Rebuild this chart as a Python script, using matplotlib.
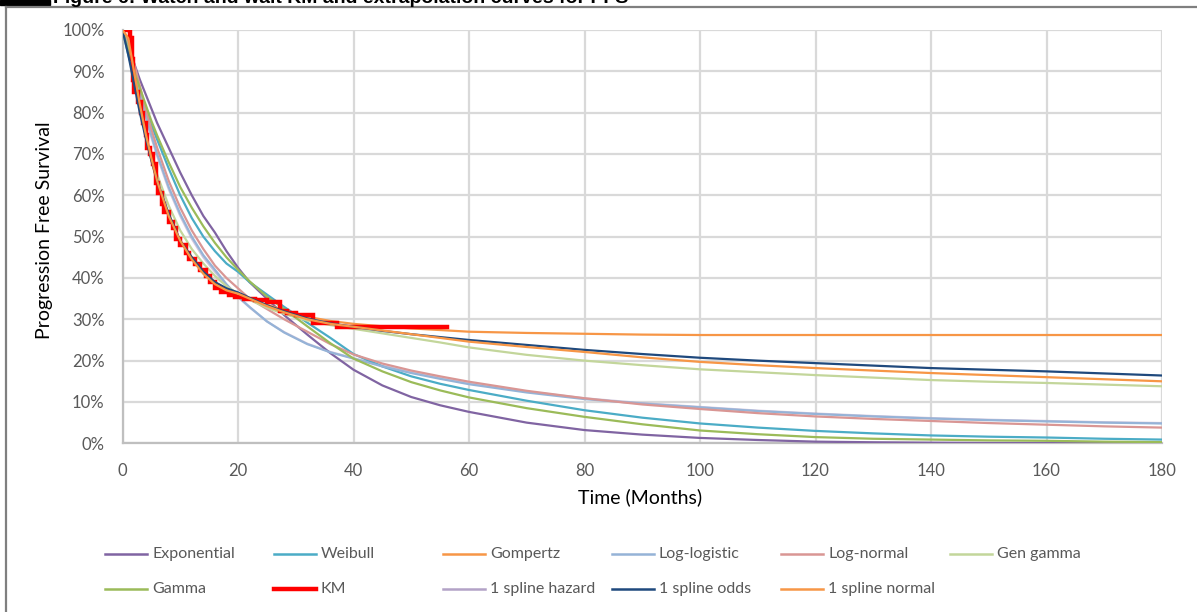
import matplotlib
matplotlib.use("Agg")
import matplotlib.pyplot as plt
from matplotlib.lines import Line2D
from matplotlib.patches import Rectangle
from matplotlib.ticker import FuncFormatter

plt.rcParams['font.family'] = ['Lato', 'DejaVu Sans']

#Time points (months)
months = [0, 1, 2, 3, 4, 5, 6, 8, 10, 12, 14, 16, 18, 20, 22, 25, 28, 32, 36, 40,
          45, 50, 55, 60, 70, 80, 90, 100, 110, 120, 130, 140, 150, 160, 170, 180]

#Extrapolation curves (% progression free)
exponential = [100, 96, 92, 88, 84.5, 81, 77.5, 71.5, 65.5, 60, 55, 51, 46.5, 42.5, 39, 35, 31, 26.3, 21.8, 17.8,
               14.0, 11.2, 9.2, 7.6, 5.0, 3.2, 2.1, 1.3, 0.8, 0.4, 0.25, 0.15, 0.08, 0.04, 0.02, 0.01]
weibull = [100, 94, 89, 85, 81, 77, 73.5, 66.5, 60, 54.5, 50, 46.5, 43.5, 41.5, 39, 36, 33, 29.2, 25.5, 21.6,
           18.6, 16.2, 14.4, 12.9, 10.3, 8.0, 6.2, 4.8, 3.8, 3.0, 2.4, 1.9, 1.6, 1.4, 1.1, 0.9]
gompertz = [100, 98, 89.5, 81.5, 74.5, 68.5, 63, 55, 49, 45, 41.5, 39, 37.2, 36, 35, 33.5, 32.2, 30.6, 29.6, 28.9,
            28.3, 27.8, 27.4, 27.0, 26.7, 26.5, 26.3, 26.2, 26.2, 26.2, 26.2, 26.2, 26.2, 26.2, 26.2, 26.2]
log_logistic = [100, 97, 91, 85, 79.5, 74.5, 70, 62, 55.5, 50, 45.5, 42, 38.5, 35.5, 33, 29.5, 26.8, 24, 22, 20.5,
                18.6, 17, 15.6, 14.3, 12.3, 10.7, 9.6, 8.7, 7.8, 7.1, 6.5, 6.0, 5.6, 5.3, 5.0, 4.8]
log_normal = [100, 97.5, 92, 86.5, 81, 76, 71.5, 63.5, 57, 51.5, 47, 43, 40, 37.5, 35, 32.5, 30, 27, 24, 21.5,
              19.3, 17.6, 16.2, 14.9, 12.7, 10.9, 9.4, 8.3, 7.3, 6.5, 5.9, 5.4, 4.9, 4.5, 4.1, 3.8]
gen_gamma = [100, 95, 88, 81, 75, 69.5, 65, 57.5, 51.5, 47, 43.5, 40.5, 38, 36.2, 34.7, 32.8, 31.3, 29.7, 28.6, 27.7,
             26.6, 25.5, 24.4, 23.2, 21.4, 20.0, 18.9, 17.9, 17.2, 16.5, 15.9, 15.3, 14.9, 14.6, 14.2, 13.8]
gamma = [100, 95, 90, 86, 82, 78, 74.5, 68, 62, 57, 52.5, 48.5, 45, 42, 39.2, 35.5, 32.5, 28.3, 24.2, 20.5,
         17.4, 14.8, 12.8, 11.1, 8.5, 6.4, 4.6, 3.1, 2.2, 1.5, 1.1, 0.9, 0.7, 0.6, 0.4, 0.3]
spline_hazard = [100, 96.5, 90.5, 84.5, 79, 74, 69.5, 61.5, 55, 49.5, 45, 41.5, 38.2, 35.4, 32.9, 29.5, 26.9, 24.1, 22.1, 20.6,
                 18.8, 17.2, 15.8, 14.5, 12.5, 10.9, 9.7, 8.8, 7.9, 7.2, 6.6, 6.1, 5.7, 5.4, 5.1, 4.9]
spline_odds = [100, 94, 87, 80, 74, 68.5, 63.5, 55.5, 49, 45, 41.5, 39, 37.5, 36.5, 35.2, 33.4, 31.9, 30.2, 29, 28.2,
               27.2, 26.4, 25.7, 25.0, 23.8, 22.6, 21.6, 20.7, 20.0, 19.4, 18.8, 18.2, 17.8, 17.4, 16.9, 16.4]
spline_normal = [100, 98, 90, 82, 75, 69, 63.5, 55, 49, 44.5, 41, 38.5, 37, 36.2, 35, 33.2, 31.7, 30, 28.9, 28.2,
                 27.3, 26.4, 25.5, 24.6, 23.3, 22.1, 20.8, 19.7, 18.9, 18.2, 17.6, 17.0, 16.5, 16.0, 15.5, 15.0]

#Kaplan-Meier steps
km_months = [0, 1.3, 1.6, 1.8, 2.0, 2.6, 3.2, 3.6, 4.0, 4.3, 4.7, 5.2, 5.8, 6.2, 6.8, 7.2, 8.0, 8.8, 9.3, 10.0,
             11.0, 11.6, 12.5, 13.5, 14.5, 15.2, 16.0, 17.0, 18.5, 19.5, 21.0, 23.0, 25.0, 27.3, 28.5, 30.0,
             33.0, 37.2, 56.2]
km_surv = [100, 98, 93, 88, 85, 82.5, 80, 77.5, 74.5, 71.5, 70, 67.5, 63, 60.5, 58, 56, 53.5, 52, 49.5, 48,
           46, 44.5, 43.5, 42, 40.5, 39, 37.5, 36.5, 36, 35.3, 35, 34.6, 34.2, 32, 31.5, 31, 29.2, 28.1, 28.1]

x_ticks = [0, 20, 40, 60, 80, 100, 120, 140, 160, 180]
y_ticks = [0, 10, 20, 30, 40, 50, 60, 70, 80, 90, 100]

series = [
    ("Exponential", exponential, "#8064A2"),
    ("Weibull", weibull, "#4BACC6"),
    ("Gompertz", gompertz, "#F79646"),
    ("Log-logistic", log_logistic, "#95B3D7"),
    ("Log-normal", log_normal, "#D99694"),
    ("Gen gamma", gen_gamma, "#C3D69B"),
    ("Gamma", gamma, "#9BBB59"),
    ("KM", None, "#FF0000"),
    ("1 spline hazard", spline_hazard, "#B3A2C7"),
    ("1 spline odds", spline_odds, "#1F497D"),
    ("1 spline normal", spline_normal, "#F79646"),
]

W, H = 1197, 612
fig = plt.figure(figsize=(W / 100, H / 100), dpi=100)
ax = fig.add_axes([122.5 / W, 1 - 443.3 / H, (1162 - 122.5) / W, (443.3 - 30) / H])

for name, vals, col in series:
    if vals is None:
        ax.plot(km_months, km_surv, color=col, lw=3.2, drawstyle="steps-post",
                solid_joinstyle="miter", zorder=3)
    elif name == "1 spline hazard":
        # sits almost on top of the log-logistic curve
        ax.plot(months, vals, color=col, lw=1.6, alpha=0.6, zorder=2)
    else:
        ax.plot(months, vals, color=col, lw=1.6, zorder=3)

ax.set_xlim(0, 180)
ax.set_ylim(0, 100)
ax.set_xticks(x_ticks)
ax.set_yticks(y_ticks)
ax.yaxis.set_major_formatter(FuncFormatter(lambda v, p: f"{v:.0f}%"))
ax.tick_params(length=0, labelsize=12, labelcolor="#595959")
ax.tick_params(axis="x", pad=14)
ax.tick_params(axis="y", pad=13)
ax.grid(True, color="#D9D9D9", lw=1.6, zorder=0)
ax.set_axisbelow(True)
for s in ["top", "right"]:
    ax.spines[s].set_visible(False)
for s in ["left", "bottom"]:
    ax.spines[s].set_color("#BFBFBF")
    ax.spines[s].set_linewidth(1.6)

fig.text(640 / W, 1 - 497 / H, "Time (Months)", ha="center", va="center", fontsize=14, color="#000000")
fig.text(45 / W, 1 - 230 / H, "Progression Free Survival", ha="center", va="center",
         rotation=90, fontsize=14, color="#000000")

#Legend, two rows of six like the Excel one
for i, (name, vals, col) in enumerate(series):
    row, c = divmod(i, 6)
    x0 = 105 + c * 169
    y0 = 554 + row * 35
    fig.add_artist(Line2D([x0 / W, (x0 + 42) / W], [1 - y0 / H, 1 - y0 / H],
                          color=col, lw=3.2 if name == "KM" else 1.8, transform=fig.transFigure))
    fig.text((x0 + 47) / W, 1 - y0 / H, name, ha="left", va="center", fontsize=11.5, color="#595959")

#Frame and cropped caption at the top
fig.add_artist(Line2D([5.5 / W, 5.5 / W], [0, 1 - 7 / H], color="#7F7F7F", lw=1.6, transform=fig.transFigure))
fig.add_artist(Line2D([5.5 / W, 1], [1 - 7 / H, 1 - 7 / H], color="#7F7F7F", lw=1.6, transform=fig.transFigure))
fig.add_artist(Rectangle((0, 1 - 5 / H), 50 / W, 5 / H, color="black", transform=fig.transFigure))
fig.text(53 / W, 1 - 3 / H, "Figure 6: Watch and wait KM and extrapolation curves for PFS",
         ha="left", va="baseline", fontsize=14, fontweight="bold", family="Liberation Sans")

fig.savefig("out.png", dpi=100)
